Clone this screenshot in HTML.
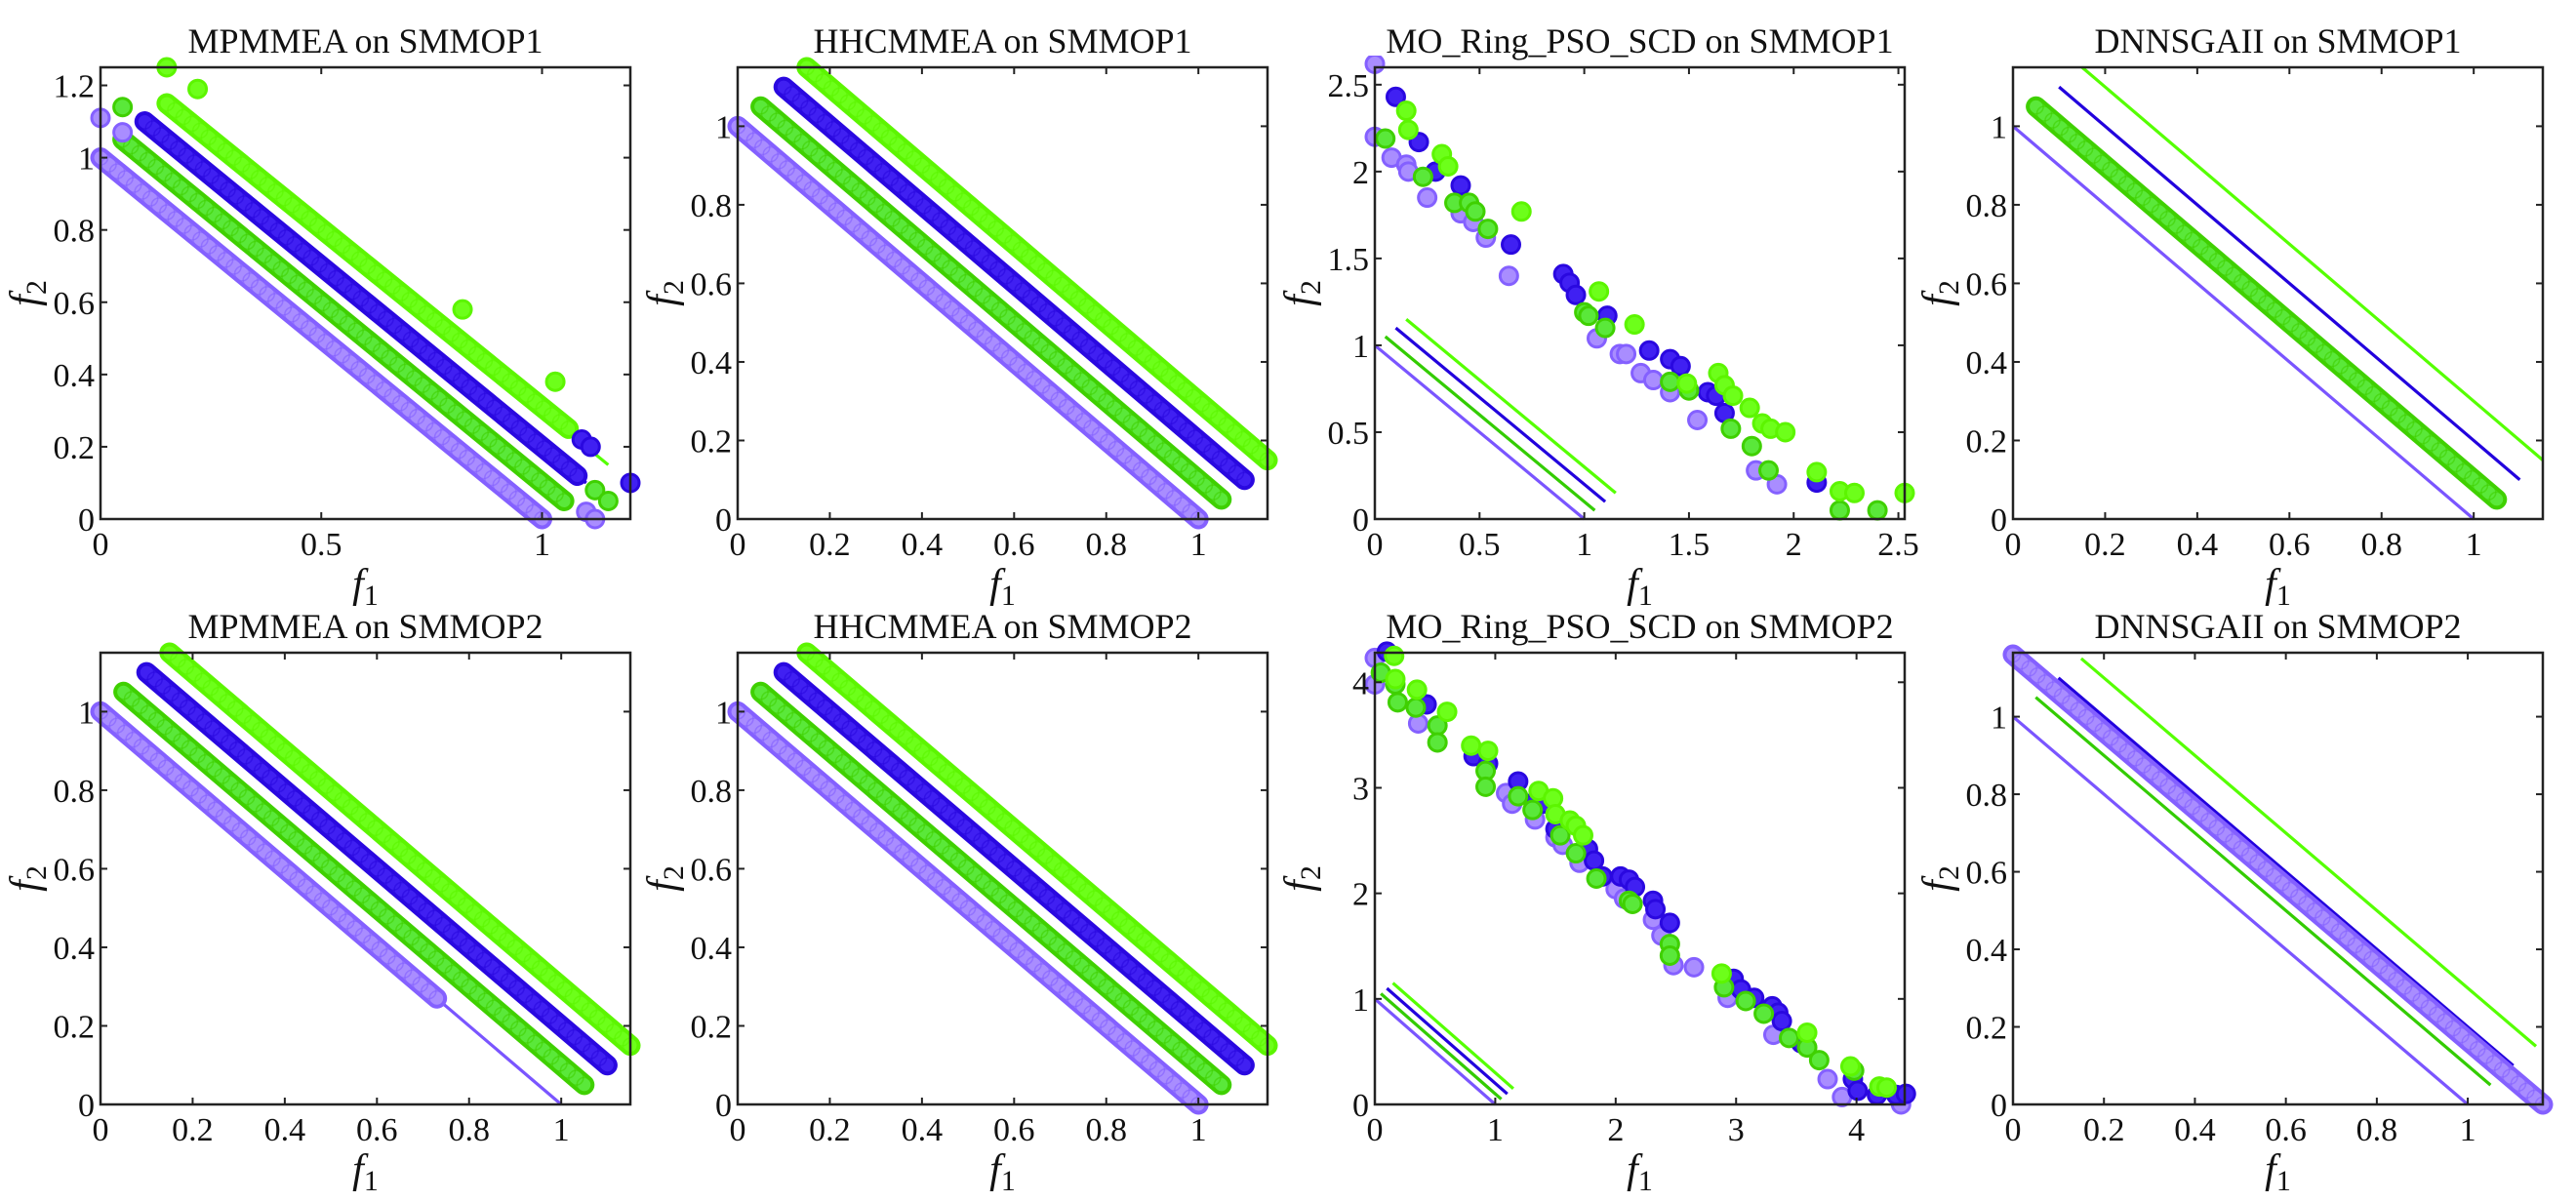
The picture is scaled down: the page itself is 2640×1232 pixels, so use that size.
<!DOCTYPE html>
<html><head><meta charset="utf-8"><style>
html,body{margin:0;padding:0;background:#fff;}
svg{display:block;}
svg text{font-family:"Liberation Serif","Times New Roman",serif;fill:#111;}
</style></head><body>
<svg id="fig" width="2640" height="1232" viewBox="0 0 2640 1232" xmlns="http://www.w3.org/2000/svg" font-family="Liberation Serif, Times New Roman, serif"></svg>
<script>
// ---------- Data ----------
const pfX1=[0,0.05,0.1,0.15], pfX2=[1,1.05,1.1,1.15];
const pfY1=[1,1.05,1.1,1.15], pfY2=[0,0.05,0.1,0.15];

// Panel 1: MPMMEA on SMMOP1
const a1_band_purple_x=[0,1], a1_band_purple_y=[1,0];
const a1_band_dgreen_x=[0.05,1.05], a1_band_dgreen_y=[1.05,0.05];
const a1_band_blue_x=[0.1,1.08], a1_band_blue_y=[1.1,0.12];
const a1_band_bgreen_x=[0.15,1.06], a1_band_bgreen_y=[1.15,0.25];
const a1_pts_purple_x=[0,0.05,1.1,1.12], a1_pts_purple_y=[1.11,1.07,0.02,0];
const a1_pts_dgreen_x=[0.05,1.12,1.15], a1_pts_dgreen_y=[1.14,0.08,0.05];
const a1_pts_blue_x=[1.09,1.11,1.2], a1_pts_blue_y=[0.22,0.2,0.1];
const a1_pts_bgreen_x=[0.15,0.22,0.82,1.03], a1_pts_bgreen_y=[1.25,1.19,0.58,0.38];

// Panel 2: HHCMMEA on SMMOP1
const a2_band_purple_x=[0,1], a2_band_purple_y=[1,0];
const a2_band_dgreen_x=[0.05,1.05], a2_band_dgreen_y=[1.05,0.05];
const a2_band_blue_x=[0.1,1.1], a2_band_blue_y=[1.1,0.1];
const a2_band_bgreen_x=[0.15,1.15], a2_band_bgreen_y=[1.15,0.15];

// Panel 3: MO_Ring_PSO_SCD on SMMOP1
const a3_pts_purple_x=[0,0,0.08,0.15,0.16,0.25,0.41,0.47,0.53,0.64,1.06,1.17,1.2,1.27,1.33,1.41,1.54,1.82,1.92];
const a3_pts_purple_y=[2.62,2.2,2.08,2.04,2.0,1.85,1.76,1.71,1.62,1.40,1.04,0.95,0.95,0.84,0.80,0.73,0.57,0.28,0.2];
const a3_pts_blue_x=[0.1,0.21,0.29,0.41,0.65,0.9,0.93,0.96,1.11,1.31,1.41,1.46,1.59,1.63,1.67,2.11];
const a3_pts_blue_y=[2.43,2.17,2.0,1.92,1.58,1.41,1.36,1.29,1.17,0.97,0.92,0.88,0.73,0.71,0.61,0.21];
const a3_pts_dgreen_x=[0.05,0.23,0.38,0.45,0.48,0.54,1.0,1.02,1.1,1.41,1.5,1.7,1.8,1.88,2.22,2.4];
const a3_pts_dgreen_y=[2.19,1.97,1.82,1.82,1.77,1.67,1.19,1.17,1.1,0.79,0.74,0.52,0.42,0.28,0.05,0.05];
const a3_pts_bgreen_x=[0.15,0.16,0.32,0.35,0.7,1.07,1.24,1.49,1.64,1.67,1.71,1.79,1.85,1.89,1.96,2.11,2.22,2.29,2.53];
const a3_pts_bgreen_y=[2.35,2.24,2.1,2.03,1.77,1.31,1.12,0.78,0.84,0.77,0.71,0.64,0.55,0.52,0.5,0.27,0.16,0.15,0.15];

// Panel 4: DNNSGAII on SMMOP1
const a4_band_dgreen_x=[0.05,1.05], a4_band_dgreen_y=[1.05,0.05];

// Panel 5: MPMMEA on SMMOP2
const b1_band_purple_x=[0,0.73], b1_band_purple_y=[1,0.27];
const b1_band_dgreen_x=[0.05,1.05], b1_band_dgreen_y=[1.05,0.05];
const b1_band_blue_x=[0.1,1.1], b1_band_blue_y=[1.1,0.1];
const b1_band_bgreen_x=[0.15,1.15], b1_band_bgreen_y=[1.15,0.15];

// Panel 6: HHCMMEA on SMMOP2
const b2_band_purple_x=[0,1], b2_band_purple_y=[1,0];
const b2_band_dgreen_x=[0.05,1.05], b2_band_dgreen_y=[1.05,0.05];
const b2_band_blue_x=[0.1,1.1], b2_band_blue_y=[1.1,0.1];
const b2_band_bgreen_x=[0.15,1.15], b2_band_bgreen_y=[1.15,0.15];

// Panel 7: MO_Ring_PSO_SCD on SMMOP2
const b3_pts_purple_x=[0,0,0.36,1.09,1.14,1.33,1.5,1.56,1.7,2.0,2.07,2.31,2.38,2.48,2.65,2.93,3.31,3.76,3.88,4.37];
const b3_pts_purple_y=[4.23,3.98,3.61,2.95,2.85,2.7,2.53,2.46,2.29,2.04,1.95,1.75,1.6,1.32,1.3,1.01,0.66,0.24,0.07,0];
const b3_pts_blue_x=[0.1,0.43,0.82,0.94,1.19,1.33,1.4,1.5,1.77,1.82,1.89,2.04,2.11,2.16,2.31,2.33,2.45,2.98,3.04,3.15,3.3,3.35,3.38,3.54,3.97,4.01,4.17,4.33,4.41];
const b3_pts_blue_y=[4.29,3.79,3.3,3.23,3.06,2.87,2.85,2.61,2.42,2.31,2.16,2.16,2.13,2.06,1.93,1.85,1.72,1.19,1.09,1.01,0.93,0.87,0.79,0.58,0.24,0.13,0.09,0.09,0.1];
const b3_pts_dgreen_x=[0.05,0.17,0.19,0.34,0.52,0.52,0.92,0.92,1.19,1.31,1.54,1.67,1.84,2.11,2.14,2.45,2.45,2.9,3.08,3.23,3.44,3.59,3.69,3.98];
const b3_pts_dgreen_y=[4.09,3.98,3.81,3.76,3.59,3.43,3.16,3.01,2.92,2.79,2.55,2.38,2.14,1.93,1.9,1.52,1.41,1.11,0.98,0.86,0.63,0.54,0.42,0.32];
const b3_pts_bgreen_x=[0.16,0.17,0.35,0.6,0.8,0.94,1.36,1.48,1.5,1.62,1.67,1.73,2.88,3.59,3.95,4.19,4.25];
const b3_pts_bgreen_y=[4.25,4.03,3.93,3.72,3.4,3.35,2.97,2.9,2.75,2.69,2.64,2.55,1.24,0.68,0.36,0.17,0.16];

// Panel 8: DNNSGAII on SMMOP2
const b4_band_purple_x=[0,1.165], b4_band_purple_y=[1.16,0];

// Tick labels
const ticksA=[0,0.5,1];
const ticksB=[0,0.2,0.4,0.6,0.8,1];
const ticksC=[0,0.2,0.4,0.6,0.8,1,1.2];
const ticksD=[0,0.5,1,1.5,2,2.5];
const ticksE=[0,1,2,3,4];

// ---------- Styles ----------
const COL={
  purple:{edge:'#8460ff',fill:'#a98dff',line:'#7a55ff'},
  dgreen:{edge:'#3fd000',fill:'#5ae83a',line:'#33cc00'},
  blue:{edge:'#2a08e0',fill:'#4020f2',line:'#2200dd'},
  bgreen:{edge:'#5cf500',fill:'#6dff1a',line:'#55ff00'}
};
const ORDER=['purple','dgreen','blue','bgreen'];
const R=9;
const FONT='Liberation Serif, Times New Roman, serif';
const NS='http://www.w3.org/2000/svg';
const svg=document.getElementById('fig');
function mk(tag,attrs,parent){const e=document.createElementNS(NS,tag);for(const k in attrs)e.setAttribute(k,attrs[k]);(parent||svg).appendChild(e);return e;}

const panels=[
 {title:'MPMMEA on SMMOP1',x:103,y:69,xmax:1.2,ymax:1.25,xt:ticksA,yt:ticksC,
  bands:{purple:[a1_band_purple_x,a1_band_purple_y],dgreen:[a1_band_dgreen_x,a1_band_dgreen_y],blue:[a1_band_blue_x,a1_band_blue_y],bgreen:[a1_band_bgreen_x,a1_band_bgreen_y]},
  pts:{purple:[a1_pts_purple_x,a1_pts_purple_y],dgreen:[a1_pts_dgreen_x,a1_pts_dgreen_y],blue:[a1_pts_blue_x,a1_pts_blue_y],bgreen:[a1_pts_bgreen_x,a1_pts_bgreen_y]}},
 {title:'HHCMMEA on SMMOP1',x:756,y:69,xmax:1.15,ymax:1.15,xt:ticksB,yt:ticksB,
  bands:{purple:[a2_band_purple_x,a2_band_purple_y],dgreen:[a2_band_dgreen_x,a2_band_dgreen_y],blue:[a2_band_blue_x,a2_band_blue_y],bgreen:[a2_band_bgreen_x,a2_band_bgreen_y]},pts:{}},
 {title:'MO_Ring_PSO_SCD on SMMOP1',x:1409,y:69,xmax:2.53,ymax:2.6,xt:ticksD,yt:ticksD,bands:{},
  pts:{purple:[a3_pts_purple_x,a3_pts_purple_y],blue:[a3_pts_blue_x,a3_pts_blue_y],dgreen:[a3_pts_dgreen_x,a3_pts_dgreen_y],bgreen:[a3_pts_bgreen_x,a3_pts_bgreen_y]}},
 {title:'DNNSGAII on SMMOP1',x:2063,y:69,xmax:1.15,ymax:1.15,xt:ticksB,yt:ticksB,
  bands:{dgreen:[a4_band_dgreen_x,a4_band_dgreen_y]},pts:{}},
 {title:'MPMMEA on SMMOP2',x:103,y:669,xmax:1.15,ymax:1.15,xt:ticksB,yt:ticksB,
  bands:{purple:[b1_band_purple_x,b1_band_purple_y],dgreen:[b1_band_dgreen_x,b1_band_dgreen_y],blue:[b1_band_blue_x,b1_band_blue_y],bgreen:[b1_band_bgreen_x,b1_band_bgreen_y]},pts:{}},
 {title:'HHCMMEA on SMMOP2',x:756,y:669,xmax:1.15,ymax:1.15,xt:ticksB,yt:ticksB,
  bands:{purple:[b2_band_purple_x,b2_band_purple_y],dgreen:[b2_band_dgreen_x,b2_band_dgreen_y],blue:[b2_band_blue_x,b2_band_blue_y],bgreen:[b2_band_bgreen_x,b2_band_bgreen_y]},pts:{}},
 {title:'MO_Ring_PSO_SCD on SMMOP2',x:1409,y:669,xmax:4.4,ymax:4.28,xt:ticksE,yt:ticksE,bands:{},
  pts:{purple:[b3_pts_purple_x,b3_pts_purple_y],blue:[b3_pts_blue_x,b3_pts_blue_y],dgreen:[b3_pts_dgreen_x,b3_pts_dgreen_y],bgreen:[b3_pts_bgreen_x,b3_pts_bgreen_y]}},
 {title:'DNNSGAII on SMMOP2',x:2063,y:669,xmax:1.165,ymax:1.165,xt:ticksB,yt:ticksB,
  bands:{purple:[b4_band_purple_x,b4_band_purple_y]},pts:{}}
];
const W=543,H=463;

panels.forEach((p,pi)=>{
  const g=mk('g',{});
  
  
  const sx=v=>p.x+v/p.xmax*W;
  const sy=v=>p.y+H-v/p.ymax*H;
  const clipId='clip'+pi;
  const cp=mk('clipPath',{id:clipId},g);
  mk('rect',{x:p.x-12,y:p.y-12,width:W+24,height:H+24},cp);
  const plot=mk('g',{'clip-path':'url(#'+clipId+')'},g);
  ORDER.forEach((c,i)=>{
    const l=mk('line',{x1:sx(pfX1[i]),y1:sy(pfY1[i]),x2:sx(pfX2[i]),y2:sy(pfY2[i]),stroke:COL[c].line,'stroke-width':3.2},plot);
    
    
  });
  ORDER.forEach(c=>{
    const b=p.bands[c]; if(!b) return;
    const pts=b[0].map((v,i)=>sx(v)+','+sy(b[1][i])).join(' ');
    const e1=mk('polyline',{points:pts,fill:'none',stroke:COL[c].edge,'stroke-width':2*R+3,'stroke-linecap':'round','stroke-linejoin':'round'},plot);
    
    
    mk('polyline',{points:pts,fill:'none',stroke:COL[c].fill,'stroke-width':2*R-5,'stroke-linecap':'round','stroke-linejoin':'round'},plot);
    for(let k=0;k<b[0].length-1;k++){
      const x0=sx(b[0][k]),y0=sy(b[1][k]),x1=sx(b[0][k+1]),y1=sy(b[1][k+1]);
      const n=Math.max(1,Math.round(Math.hypot(x1-x0,y1-y0)/11));
      for(let j=0;j<=n;j++){
        const t=j/n;
        mk('circle',{cx:x0+(x1-x0)*t,cy:y0+(y1-y0)*t,r:R-1.5,fill:'none',stroke:COL[c].edge,'stroke-width':1.5,opacity:0.6},plot);
      }
    }
  });
  ['purple','blue','dgreen','bgreen'].forEach(c=>{
    const s=p.pts[c]; if(!s) return;
    s[0].forEach((v,i)=>{
      const ci=mk('circle',{cx:sx(v),cy:sy(s[1][i]),r:R,fill:COL[c].fill,stroke:COL[c].edge,'stroke-width':3},plot);
      
      
    });
  });
  const box=mk('rect',{x:p.x,y:p.y,width:W,height:H,fill:'none',stroke:'#222','stroke-width':2.5},g);
  
  
  p.xt.forEach(t=>{
    const X=sx(t);
    mk('line',{x1:X,y1:p.y+H,x2:X,y2:p.y+H-7,stroke:'#222','stroke-width':2},g);
    mk('line',{x1:X,y1:p.y,x2:X,y2:p.y+7,stroke:'#222','stroke-width':2},g);
    const tx=mk('text',{x:X,y:p.y+H+37,'font-size':34,'font-family':FONT,'text-anchor':'middle'},g);
    tx.textContent=String(t);
    
    
  });
  p.yt.forEach(t=>{
    const Y=sy(t);
    mk('line',{x1:p.x,y1:Y,x2:p.x+7,y2:Y,stroke:'#222','stroke-width':2},g);
    mk('line',{x1:p.x+W,y1:Y,x2:p.x+W-7,y2:Y,stroke:'#222','stroke-width':2},g);
    const ty=mk('text',{x:p.x-6,y:Y+12,'font-size':34,'font-family':FONT,'text-anchor':'end'},g);
    ty.textContent=String(t);
    
    
  });
  const ti=mk('text',{x:p.x+W/2,y:p.y-15,'font-size':36,'font-family':FONT,'text-anchor':'middle'},g);
  ti.textContent=p.title;
  
  
  const xl=mk('text',{x:p.x+W/2,y:p.y+H+80,'font-size':42,'font-family':FONT,'text-anchor':'middle','font-style':'italic'},g);
  
  
  xl.innerHTML='f<tspan font-style="normal" font-size="30" dy="8">1</tspan>';
  const yl=mk('text',{x:0,y:0,'font-size':42,'font-family':FONT,'text-anchor':'middle','font-style':'italic',transform:'translate('+(p.x-64)+','+(p.y+H/2)+') rotate(-90)'},g);
  
  
  yl.innerHTML='f<tspan font-style="normal" font-size="30" dy="8">2</tspan>';
});
</script>
</body></html>
